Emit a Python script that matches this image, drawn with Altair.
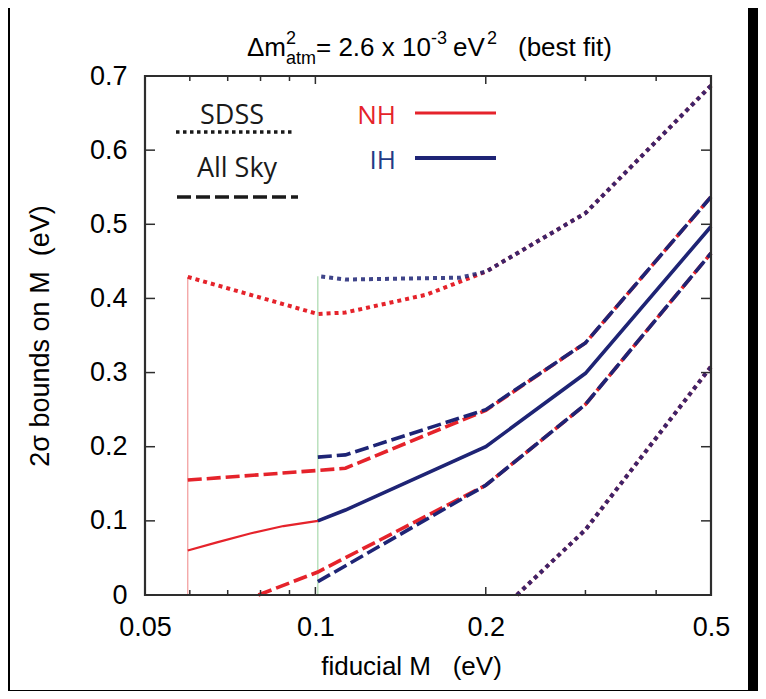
import math
import altair as alt
import pandas as pd

# ---------------- data ----------------
# fiducial M (eV) and 2-sigma bounds on M (eV)
nh_solid_m = [0.0595, 0.067, 0.0767, 0.0878, 0.101, 0.113, 0.2, 0.3, 0.5]
nh_solid_v = [0.060, 0.071, 0.083, 0.093, 0.100, 0.1146, 0.200, 0.299, 0.497]
ih_solid_m = [0.101, 0.113, 0.2, 0.3, 0.5]
ih_solid_v = [0.100, 0.1146, 0.200, 0.299, 0.497]

nh_allsky_up_m = [0.0595, 0.101, 0.113, 0.2, 0.3, 0.5]
nh_allsky_up_v = [0.155, 0.168, 0.171, 0.249, 0.340, 0.537]
ih_allsky_up_m = [0.101, 0.113, 0.2, 0.3, 0.5]
ih_allsky_up_v = [0.186, 0.189, 0.250, 0.340, 0.537]

nh_allsky_lo_m = [0.0793, 0.101, 0.2, 0.3, 0.5]
nh_allsky_lo_v = [0.0, 0.031, 0.148, 0.257, 0.461]
ih_allsky_lo_m = [0.101, 0.2, 0.3, 0.5]
ih_allsky_lo_v = [0.018, 0.148, 0.257, 0.461]

nh_sdss_up_m = [0.0595, 0.101, 0.113, 0.157, 0.2, 0.3, 0.5]
nh_sdss_up_v = [0.429, 0.379, 0.381, 0.405, 0.436, 0.515, 0.687]
ih_sdss_up_m = [0.101, 0.113, 0.18, 0.2, 0.3, 0.5]
ih_sdss_up_v = [0.430, 0.4255, 0.428, 0.436, 0.515, 0.687]

nh_sdss_lo_m = [0.227, 0.3, 0.5]
nh_sdss_lo_v = [0.0, 0.088, 0.308]
ih_sdss_lo_m = [0.227, 0.3, 0.5]
ih_sdss_lo_v = [0.0, 0.088, 0.308]

# minimal masses (vertical lines) : M and height
min_mass_m = [0.0595, 0.101]
min_mass_top = [0.429, 0.430]
min_mass_h = ["NH", "IH"]

# axes
x_label_vals = [0.05, 0.1, 0.2, 0.5]
x_minor_vals = [0.06, 0.07, 0.08, 0.09, 0.3, 0.4]
y_vals = [0, 0.1, 0.2, 0.3, 0.4, 0.5, 0.6, 0.7]

# ---------------- styles ----------------
RED = "#e5232b"
BLUE = "#1e2475"
FRAME = "#2e2e2e"
W, H = 566, 519
FONT = "Liberation Sans"
X_DOM = [0.05, 0.5]
Y_DOM = [0, 0.7]

xs = alt.Scale(type="log", domain=X_DOM, nice=False)
ys = alt.Scale(domain=Y_DOM, nice=False, zero=False)

XA = alt.Axis(values=x_label_vals, format="~g", ticks=False, domain=False, grid=False,
              labelFont=FONT, labelFontSize=27, labelColor="black", labelPadding=19,
              labelFlush=False, labelOverlap=False,
              title="fiducial M\u00a0\u00a0\u00a0(eV)", titleFont=FONT, titleFontSize=26,
              titleFontWeight="normal", titleColor="black", titleX=266, titleY=71,
              titleAlign="center", titleBaseline="middle", zindex=1)
YA = alt.Axis(values=y_vals, format="~g", ticks=False, domain=False, grid=False,
              labelFont=FONT, labelFontSize=27, labelColor="black", labelPadding=18,
              title="2σ bounds on M\u00a0\u00a0(eV)", titleFont=FONT, titleFontSize=27,
              titleFontWeight="normal", titleColor="black", titleX=-105, titleY=H / 2,
              titleAngle=-90, titleAlign="center", titleBaseline="middle", zindex=1)


def X(field):
    return alt.X(field, scale=xs, axis=XA)


def Y(field):
    return alt.Y(field, scale=ys, axis=YA)


def path_len(m, v, upto):
    """Drawn length of a curve up to M=upto (used only to phase the dot pattern)."""
    px = [W * math.log10(a / X_DOM[0]) / math.log10(X_DOM[1] / X_DOM[0]) for a in m]
    py = [H * b / (Y_DOM[1] - Y_DOM[0]) for b in v]
    total = 0.0
    for i in range(1, len(m)):
        if m[i] > upto + 1e-12:
            break
        total += math.hypot(px[i] - px[i - 1], py[i] - py[i - 1])
    return total


one = pd.DataFrame({"k": [0]})


def curve(m, v, color, width, dash=None, opacity=1.0, offset=0.0):
    df = pd.DataFrame({"M": m, "v": v})
    kw = dict(color=color, strokeWidth=width, opacity=opacity, strokeCap="butt",
              strokeJoin="miter")
    if dash is not None:
        kw["strokeDash"] = dash
        kw["strokeDashOffset"] = offset
    return alt.Chart(df).mark_line(**kw).encode(x=X("M:Q"), y=Y("v:Q"))


layers = []

# background: white picture on black surround
layers.append(alt.Chart(one).mark_rect(color="white").encode(
    x=alt.value(-135), x2=alt.value(603), y=alt.value(-68), y2=alt.value(614)))

# minimal-mass vertical lines
mm = pd.DataFrame({"M": min_mass_m, "top": min_mass_top, "h": min_mass_h})
layers.append(alt.Chart(mm).mark_rule(strokeWidth=1.2).encode(
    x=X("M:Q"),
    y=Y("top:Q"),
    y2=alt.datum(0),
    color=alt.Color("h:N", scale=alt.Scale(domain=["NH", "IH"], range=["#f29a9a", "#a9d9ad"]),
                    legend=None),
))

DOT = [4, 4]
DASH = [14, 5]

# phase of IH dots so that they sit on NH dots where the curves coincide
period = sum(DOT)
dot_off = (path_len(nh_sdss_up_m, nh_sdss_up_v, 0.2)
           - path_len(ih_sdss_up_m, ih_sdss_up_v, 0.2)) % period

# NH (red) first
layers.append(curve(nh_solid_m, nh_solid_v, RED, 2.2))
layers.append(curve(nh_allsky_up_m, nh_allsky_up_v, RED, 3.6, DASH))
layers.append(curve(nh_allsky_lo_m, nh_allsky_lo_v, RED, 3.6, DASH))
layers.append(curve(nh_sdss_up_m, nh_sdss_up_v, RED, 4, DOT))
layers.append(curve(nh_sdss_lo_m, nh_sdss_lo_v, RED, 4, DOT))
# IH (blue) on top
layers.append(curve(ih_solid_m, ih_solid_v, BLUE, 3.6))
layers.append(curve(ih_allsky_up_m, ih_allsky_up_v, BLUE, 3.6, DASH))
layers.append(curve(ih_allsky_lo_m, ih_allsky_lo_v, BLUE, 3.6, DASH))
layers.append(curve(ih_sdss_up_m, ih_sdss_up_v, BLUE, 4, DOT, opacity=0.85,
                    offset=round(dot_off, 3)))
layers.append(curve(ih_sdss_lo_m, ih_sdss_lo_v, BLUE, 4, DOT, opacity=0.85))

# frame
layers.append(alt.Chart(one).mark_rect(filled=False, stroke=FRAME, strokeWidth=2.2).encode(
    x=alt.value(0), x2=alt.value(W), y=alt.value(0), y2=alt.value(H)))

# inward ticks
ydf = pd.DataFrame({"v": y_vals})
layers.append(alt.Chart(ydf).mark_rule(color=FRAME, strokeWidth=1.5).encode(
    y=Y("v:Q"), x=alt.value(0), x2=alt.value(10)))
layers.append(alt.Chart(ydf).mark_rule(color=FRAME, strokeWidth=1.5).encode(
    y=Y("v:Q"), x=alt.value(W - 10), x2=alt.value(W)))
xmaj = pd.DataFrame({"M": x_label_vals})
xmin = pd.DataFrame({"M": x_minor_vals})
for df, L in ((xmaj, 8), (xmin, 5)):
    layers.append(alt.Chart(df).mark_rule(color=FRAME, strokeWidth=1.5).encode(
        x=X("M:Q"), y=alt.value(H), y2=alt.value(H - L)))
    layers.append(alt.Chart(df).mark_rule(color=FRAME, strokeWidth=1.5).encode(
        x=X("M:Q"), y=alt.value(0), y2=alt.value(L)))

# in-plot legend
LFONT = "Open Sans"
layers.append(alt.Chart(one).mark_text(text="SDSS", font=LFONT, fontSize=27, align="center",
                                       baseline="alphabetic", color="#1a1a1a").encode(
    x=alt.value(87), y=alt.value(48)))
layers.append(alt.Chart(one).mark_rule(color="#1a1a1a", strokeWidth=3.5, strokeDash=[3.5, 3.5]).encode(
    x=alt.value(31), x2=alt.value(150), y=alt.value(56)))
layers.append(alt.Chart(one).mark_text(text="All Sky", font=LFONT, fontSize=27, align="center",
                                       baseline="alphabetic", color="#1a1a1a").encode(
    x=alt.value(92), y=alt.value(101)))
layers.append(alt.Chart(one).mark_rule(color="#1a1a1a", strokeWidth=3.5, strokeDash=DASH).encode(
    x=alt.value(32), x2=alt.value(153), y=alt.value(121)))
layers.append(alt.Chart(one).mark_text(text="NH", font=LFONT, fontSize=26, align="right",
                                       baseline="alphabetic", color=RED).encode(
    x=alt.value(251), y=alt.value(48)))
layers.append(alt.Chart(one).mark_rule(color=RED, strokeWidth=3).encode(
    x=alt.value(270), x2=alt.value(351), y=alt.value(37)))
layers.append(alt.Chart(one).mark_text(text="IH", font=LFONT, fontSize=26, align="right",
                                       baseline="alphabetic", color="#233a86").encode(
    x=alt.value(251), y=alt.value(93)))
layers.append(alt.Chart(one).mark_rule(color=BLUE, strokeWidth=4).encode(
    x=alt.value(270), x2=alt.value(351), y=alt.value(82)))

# title with super/subscripts
title_parts = [
    ("Δm", 102, -20, 26),
    ("2", 141, -32, 18),
    ("atm", 141, -12, 18),
    ("= 2.6 x 10", 171, -20, 26),
    ("-3", 286, -32, 18),
    ("eV", 308, -20, 26),
    ("2", 342, -32, 18),
    ("(best fit)", 373, -20, 26),
]
for txt, px, py, fs in title_parts:
    layers.append(alt.Chart(one).mark_text(text=txt, font=FONT, fontSize=fs, align="left",
                                           baseline="alphabetic", color="black").encode(
        x=alt.value(px), y=alt.value(py)))

chart = alt.layer(*layers).properties(
    width=W, height=H,
    autosize=alt.AutoSizeParams(type="none"),
    padding={"left": 137, "top": 68, "right": 47, "bottom": 96},
    background="black",
).configure_view(strokeWidth=0)

chart.save("out.html", embed_options={"renderer": "svg", "actions": False})
